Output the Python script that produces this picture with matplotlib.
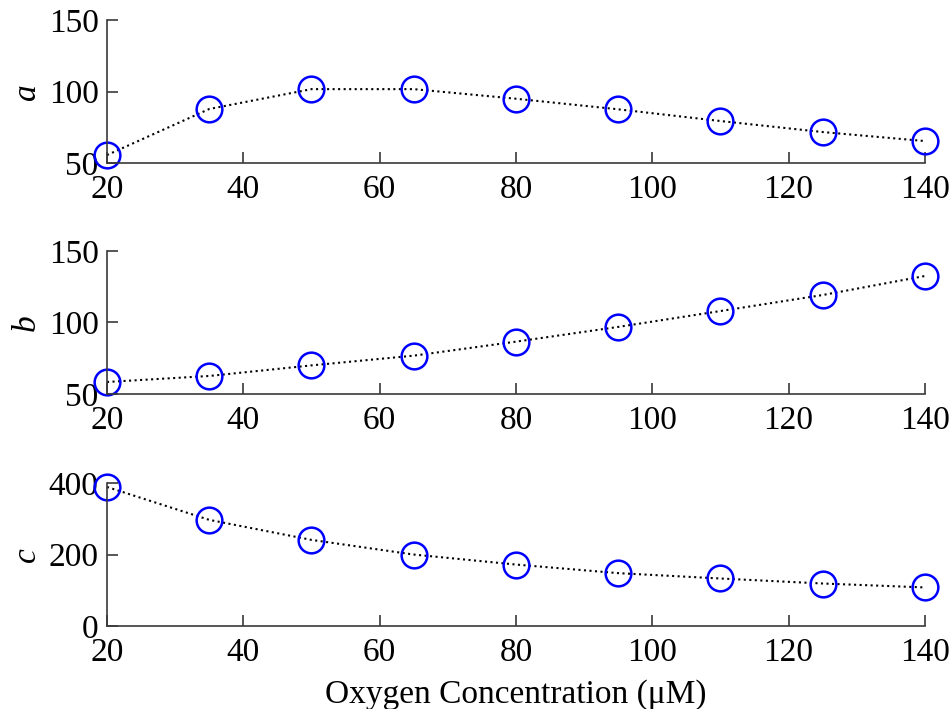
import matplotlib
matplotlib.use("Agg")
import matplotlib.pyplot as plt

plt.rcParams['font.family'] = ['Liberation Serif', 'DejaVu Serif']

# parameter estimates vs oxygen concentration
oxygen = [20, 35, 50, 65, 80, 95, 110, 125, 140]
param_a = [55.6, 87.8, 101.7, 101.7, 95.0, 87.6, 79.4, 71.7, 65.4]
param_b = [58.4, 62.6, 70.0, 76.8, 86.6, 96.9, 108.0, 119.2, 132.5]
param_c = [389, 297, 241, 200, 172, 148, 133, 119, 108]

names = ['a', 'b', 'c']
series = [param_a, param_b, param_c]
ylims = [(50, 150), (50, 150), (0, 400)]
yticks = [[50, 100, 150], [50, 100, 150], [0, 200, 400]]
xticks = [20, 40, 60, 80, 100, 120, 140]

fig = plt.figure(figsize=(9.51, 7.09), dpi=100)
bottoms = [0.770, 0.4443, 0.117]
spine_col = '#3a3a3a'

for name, vals, yl, yt, b in zip(names, series, ylims, yticks, bottoms):
    ax = fig.add_axes([0.1125, b, 0.860, 0.2017])
    ax.plot(oxygen, vals, linestyle=':', color='black', linewidth=1.5,
            clip_on=False)
    ax.plot(oxygen, vals, linestyle='none', marker='o', markersize=18.5,
            markerfacecolor='none', markeredgecolor='#0000ff',
            markeredgewidth=1.8, clip_on=False)
    ax.set_xlim(20, 140)
    ax.set_ylim(*yl)
    ax.set_xticks(xticks)
    ax.set_yticks(yt)
    for s in ['top', 'right']:
        ax.spines[s].set_visible(False)
    for s in ['left', 'bottom']:
        ax.spines[s].set_color(spine_col)
        ax.spines[s].set_linewidth(1.2)
    ax.tick_params(direction='in', length=8, width=1.2, color=spine_col,
                   labelsize=24, pad=6)
    ax.tick_params(axis='x', pad=8)
    ax.set_ylabel(name, fontsize=24, style='italic')
    ax.yaxis.set_label_coords(-0.080, 0.5)

ax.set_xlabel('Oxygen Concentration (\u03bcM)', fontsize=24, labelpad=8)

fig.savefig('out.png', dpi=100)
